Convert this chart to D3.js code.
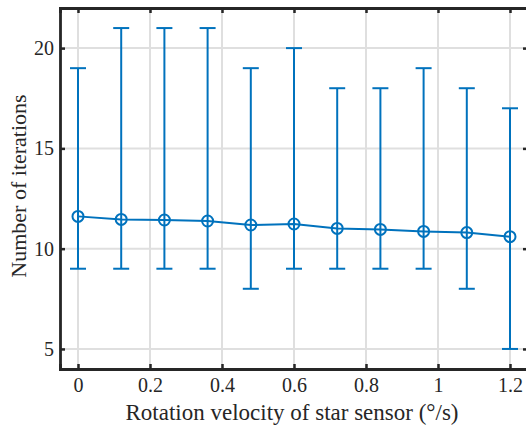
<!DOCTYPE html>
<html>
<head>
<meta charset="utf-8">
<script src="https://cdn.jsdelivr.net/npm/d3@7"></script>
<style>
  body { margin: 0; background: #fff; }
  svg { display: block; font-family: "Liberation Serif", "Times New Roman", serif; }
</style>
</head>
<body>
<div id="chart"></div>
<script>
// Rotation velocity (deg/s)
const velocity = [0, 0.12, 0.24, 0.36, 0.48, 0.6, 0.72, 0.84, 0.96, 1.08, 1.2];
// Mean number of iterations
const meanIter = [11.61, 11.46, 11.43, 11.38, 11.18, 11.23, 11.01, 10.96, 10.86, 10.8, 10.6];
// Error bar bounds
const maxIter = [19, 21, 21, 21, 19, 20, 18, 18, 19, 18, 17];
const minIter = [9, 9, 9, 9, 8, 9, 9, 9, 9, 8, 5];

const xTicks = [0, 0.2, 0.4, 0.6, 0.8, 1, 1.2];
const yTicks = [5, 10, 15, 20];

const data = velocity.map((v, i) => ({ x: v, y: meanIter[i], hi: maxIter[i], lo: minIter[i] }));

const W = 526, H = 426;
const margin = { top: 8, right: -2, bottom: 57, left: 60 };
const width = W - margin.left - margin.right;
const height = H - margin.top - margin.bottom;
const blue = "#0072BD";

const svg = d3.select("#chart").append("svg")
    .attr("width", W)
    .attr("height", H);

const g = svg.append("g")
    .attr("transform", `translate(${margin.left},${margin.top})`);

const x = d3.scaleLinear().domain([-0.05, 1.25]).range([0, width]);
const y = d3.scaleLinear().domain([4, 22]).range([height, 0]);

// grid
g.append("g").selectAll("line")
    .data(xTicks).enter().append("line")
    .attr("x1", d => x(d)).attr("x2", d => x(d))
    .attr("y1", 0).attr("y2", height)
    .attr("stroke", "#dfdfdf").attr("stroke-width", 2);
g.append("g").selectAll("line")
    .data(yTicks).enter().append("line")
    .attr("y1", d => y(d)).attr("y2", d => y(d))
    .attr("x1", 0).attr("x2", width)
    .attr("stroke", "#dfdfdf").attr("stroke-width", 2);

// axes (ticks pointing inward, box around)
const xAxis = g.append("g")
    .attr("transform", `translate(0,${height})`)
    .call(d3.axisBottom(x).tickValues(xTicks).tickSize(-5).tickPadding(9)
        .tickFormat(d => d3.format("~g")(d)));
const xTop = g.append("g")
    .call(d3.axisTop(x).tickValues(xTicks).tickSize(-5).tickFormat(""));
const yAxis = g.append("g")
    .call(d3.axisLeft(y).tickValues(yTicks).tickSize(-5).tickPadding(6));
const yRight = g.append("g")
    .attr("transform", `translate(${width},0)`)
    .call(d3.axisRight(y).tickValues(yTicks).tickSize(-5).tickFormat(""));

[xAxis, xTop, yAxis, yRight].forEach(a => {
    a.select(".domain").attr("stroke", "#262626").attr("stroke-width", 2.8);
    a.selectAll(".tick line").attr("stroke", "#262626").attr("stroke-width", 2.5);
    a.selectAll(".tick text").attr("fill", "#262626").style("font-size", "20px")
        .style("font-family", "'Liberation Serif', serif");
});

// error bars
const eb = g.append("g").selectAll("g")
    .data(data).enter().append("g")
    .attr("stroke", blue).attr("stroke-width", 2).attr("fill", "none");
eb.append("line")
    .attr("x1", d => x(d.x)).attr("x2", d => x(d.x))
    .attr("y1", d => y(d.lo)).attr("y2", d => y(d.hi));
eb.append("line")
    .attr("x1", d => x(d.x) - 8).attr("x2", d => x(d.x) + 8)
    .attr("y1", d => y(d.hi)).attr("y2", d => y(d.hi));
eb.append("line")
    .attr("x1", d => x(d.x) - 8).attr("x2", d => x(d.x) + 8)
    .attr("y1", d => y(d.lo)).attr("y2", d => y(d.lo));

// mean line
g.append("path")
    .datum(data)
    .attr("fill", "none")
    .attr("stroke", blue)
    .attr("stroke-width", 2)
    .attr("d", d3.line().x(d => x(d.x)).y(d => y(d.y)));

// markers
g.append("g").selectAll("circle")
    .data(data).enter().append("circle")
    .attr("cx", d => x(d.x)).attr("cy", d => y(d.y))
    .attr("r", 5.5)
    .attr("fill", "none")
    .attr("stroke", blue).attr("stroke-width", 2);

// labels
svg.append("text")
    .attr("x", 292)
    .attr("y", 420)
    .attr("text-anchor", "middle")
    .attr("fill", "#262626")
    .style("font-size", "23px")
    .text("Rotation velocity of star sensor (°/s)");

svg.append("text")
    .attr("transform", "translate(26,186) rotate(-90)")
    .attr("text-anchor", "middle")
    .attr("fill", "#262626")
    .style("font-size", "22px")
    .text("Number of iterations");
</script>
</body>
</html>
